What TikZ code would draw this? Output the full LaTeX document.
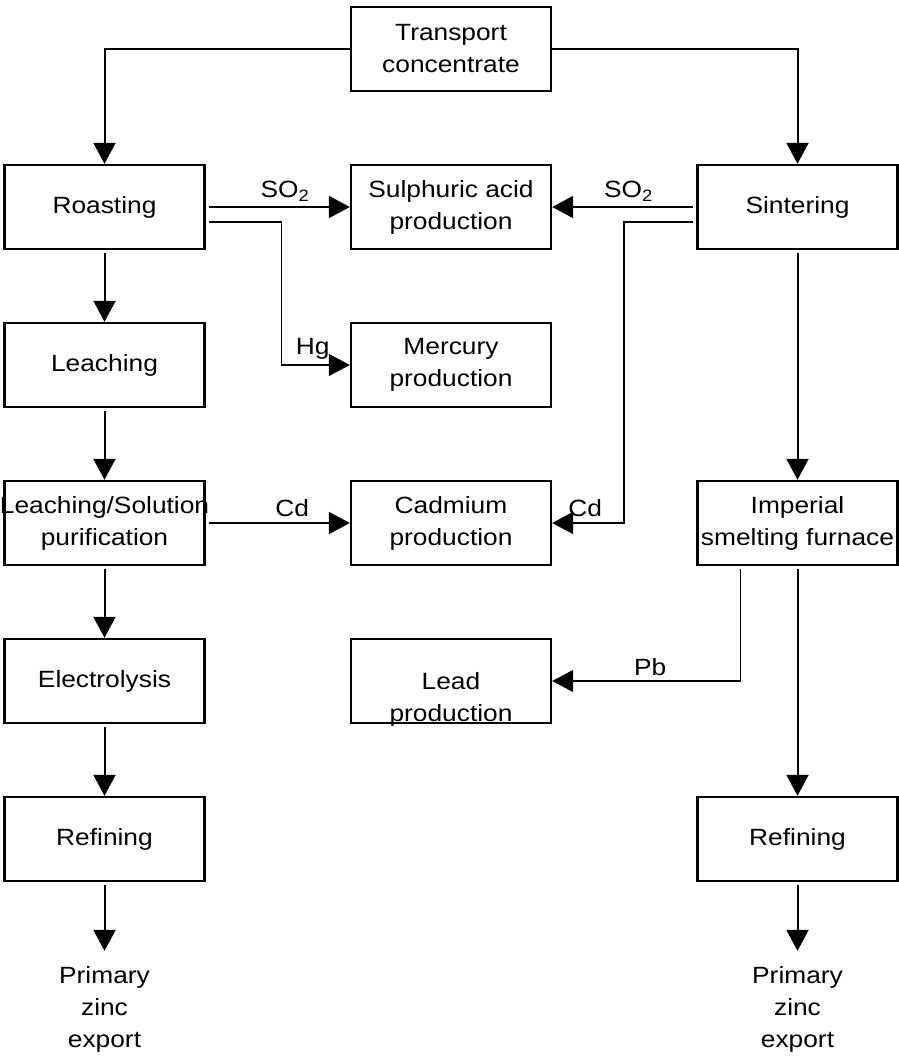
\documentclass[tikz,border=0pt]{standalone}
\usepackage{fontspec}
\setmainfont{Liberation Sans}[FakeStretch=1.12]
\usetikzlibrary{positioning,arrows.meta}
\tikzset{
>={Triangle[length=21pt,width=22pt]}, % big filled heads
node distance=158pt and 346.5pt, % rows, then columns
every node/.style={font=\fontsize{23.5}{32}\selectfont,align=center},
stage/.style={rectangle, draw, line width=2.4pt, minimum width=200pt, minimum height=84pt, inner sep=0pt},
outlet/.style={inner ysep=15pt},
flow/.style={->, line width=2pt, shorten <=3pt},
side/.style={->, line width=1.2pt, shorten <=3pt},
tag/.style={above, inner sep=5pt},
on grid
}

\begin{document}
\begin{tikzpicture}
   \useasboundingbox (0,0) rectangle (898pt,-1057pt);
   \node[stage] (trans)  at (451pt,-49pt) {Transport\\concentrate};
   \node[stage] (acid)   [below=of trans] {Sulphuric acid\\production};
   \node[stage] (roast)  [left=of acid] {Roasting};
   \node[stage] (sinter) [right=of acid] {Sintering};
   \node[stage] (leach)  [below=of roast] {Leaching};
   \node[stage] (hg)     [below=of acid] {Mercury\\production};
   \node[stage] (purif)  [below=of leach] {\makebox[0pt]{Leaching/Solution}\\purification};
   \node[stage] (cd)     [below=of hg] {Cadmium\\production};
   \node[stage] (isf)    [right=of cd] {Imperial\\smelting furnace};
   \node[stage] (elec)   [below=of purif] {Electrolysis};
   \node[stage, label={[yshift=-18pt]center:Lead\\production}] (pb) [below=of cd] {};
   \node[stage] (refl)   [below=of elec] {Refining};
   \node[stage] (refr)   [below=316pt of isf] {Refining};
   \node[outlet] (expl)  [below=170pt of refl] {Primary\\zinc\\export};
   \node[outlet] (expr)  [below=170pt of refr] {Primary\\zinc\\export};
   % main route
   \draw[flow, shorten <=0pt] (trans.west) -| (roast.north);
   \draw[flow, shorten <=0pt] (trans.east) -| (sinter.north);
   \path[flow]
    (roast)  edge (leach)
    (leach)  edge (purif)
    (purif)  edge (elec)
    (elec)   edge (refl)
    (refl)   edge (expl)
    (sinter) edge (isf)
    (isf)    edge (refr)
    (refr)   edge (expr);
   % by-products
   \draw[flow] (roast) -- node[tag, pos=0.55] {SO\textsubscript{2}} (acid);
   \draw[flow] (sinter) -- node[tag, pos=0.47] {SO\textsubscript{2}} (acid);
   \draw[side] ([yshift=-15pt]roast.east) -- ++(75.5pt,0) |- node[tag, pos=0.73] {Hg} (hg);
   \draw[flow] ([yshift=-15pt]sinter.west) -- ++(-72.5pt,0) |- node[tag, pos=0.77] {Cd} (cd);
   \draw[flow] (purif) -- node[tag, pos=0.6] {Cd} (cd);
   \draw[side] ([xshift=-57pt]isf.south) |- node[tag, pos=0.74] {Pb} (pb);
\end{tikzpicture}
\end{document}
